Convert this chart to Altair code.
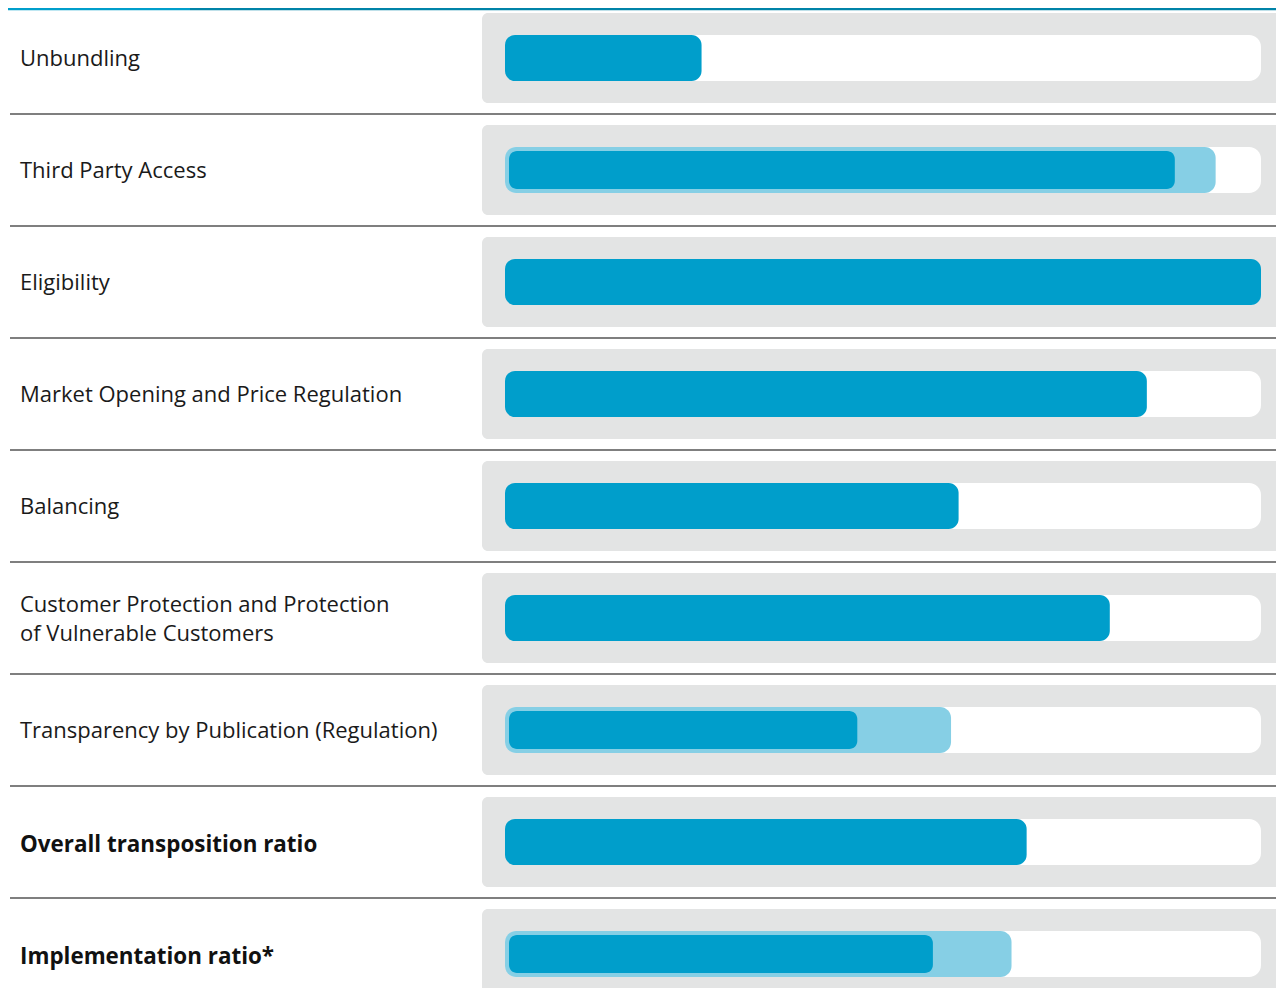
import altair as alt
import pandas as pd

categories = [
    "Unbundling",
    "Third Party Access",
    "Eligibility",
    "Market Opening and Price Regulation",
    "Balancing",
    "Customer Protection and Protection of Vulnerable Customers",
    "Transparency by Publication (Regulation)",
    "Overall transposition ratio",
    "Implementation ratio*",
]
labels = [
    "Unbundling",
    "Third Party Access",
    "Eligibility",
    "Market Opening and Price Regulation",
    "Balancing",
    "Customer Protection and Protection\nof Vulnerable Customers",
    "Transparency by Publication (Regulation)",
    "Overall transposition ratio",
    "Implementation ratio*",
]
bold_flags = [False, False, False, False, False, False, False, True, True]
dark_values = [0.26, 0.886, 1.0, 0.849, 0.60, 0.80, 0.466, 0.69, 0.566]
light_values = [None, 0.94, None, None, None, None, 0.59, None, 0.67]

df = pd.DataFrame({
    "cat": categories,
    "label": labels,
    "bold": bold_flags,
    "dark": dark_values,
    "light": light_values,
})

DARK = "#009ecb"
LIGHT = "#86cfe5"
PANEL = "#e3e4e4"

W, H = 1268, 980

yscale = alt.Scale(range=[-6, 1002], paddingInner=0, paddingOuter=0)
xscale = alt.Scale(domain=[0, 1], range=[497, 1253])


def yenc(**kw):
    return alt.Y("cat:N", sort=categories, axis=None, scale=yscale, **kw)


base = alt.Chart(df)

panel = base.mark_bar(color=PANEL, cornerRadius=6, size=90).encode(
    y=yenc(), x=alt.value(474), x2=alt.value(W + 6)
)

track = base.mark_bar(color="white", cornerRadius=12, size=46).encode(
    y=yenc(),
    x=alt.X(datum=0, scale=xscale, axis=None),
    x2=alt.datum(1),
)

light = base.transform_filter("datum.light != null").mark_bar(
    color=LIGHT, cornerRadius=11, size=46
).encode(
    y=yenc(),
    x=alt.X("light:Q", scale=xscale, axis=None),
    x2=alt.datum(0),
)

dark_single = base.transform_filter("datum.light == null").mark_bar(
    color=DARK, cornerRadius=10, size=46
).encode(
    y=yenc(),
    x=alt.X("dark:Q", scale=xscale, axis=None),
    x2=alt.datum(0),
)

dark_inner = base.transform_filter("datum.light != null").mark_bar(
    color=DARK, cornerRadius=8, size=38, x2Offset=4
).encode(
    y=yenc(),
    x=alt.X("dark:Q", scale=xscale, axis=None),
    x2=alt.datum(0),
)

text_single = base.transform_filter(
    "!datum.bold && indexof(datum.label, '\\n') < 0"
).mark_text(
    align="left", baseline="middle", font="Open Sans", fontSize=22,
    color="#1a1a1a", dy=1
).encode(y=yenc(), x=alt.value(12), text="label:N")

text_multi = base.transform_filter(
    "!datum.bold && indexof(datum.label, '\\n') >= 0"
).mark_text(
    align="left", baseline="middle", font="Open Sans", fontSize=22,
    color="#1a1a1a", lineBreak="\n", lineHeight=29, dy=-13
).encode(y=yenc(), x=alt.value(12), text="label:N")

text_bold = base.transform_filter("datum.bold").mark_text(
    align="left", baseline="middle", font="Open Sans", fontSize=22.4,
    fontWeight="bold", color="#111111", dy=2.5
).encode(y=yenc(), x=alt.value(12), text="label:N")

separators = base.mark_rule(color="#555555", strokeWidth=1.5).encode(
    y=yenc(bandPosition=1), x=alt.value(2), x2=alt.value(W)
)

topdf = pd.DataFrame({"seg": ["a", "b"]})
top_a = alt.Chart(topdf).transform_filter("datum.seg == 'a'").mark_rule(
    color=DARK, strokeWidth=2.5
).encode(x=alt.value(0), x2=alt.value(182), y=alt.value(1))
top_b = alt.Chart(topdf).transform_filter("datum.seg == 'b'").mark_rule(
    color="#0083a8", strokeWidth=2.5
).encode(x=alt.value(182), x2=alt.value(W), y=alt.value(1))

chart = alt.layer(
    panel, track, light, dark_single, dark_inner, separators,
    text_single, text_multi, text_bold, top_a, top_b
).properties(
    width=W, height=H, autosize="none", padding=0
).configure_view(stroke=None)

chart.save("out.html", embed_options={"renderer": "svg", "actions": False})
